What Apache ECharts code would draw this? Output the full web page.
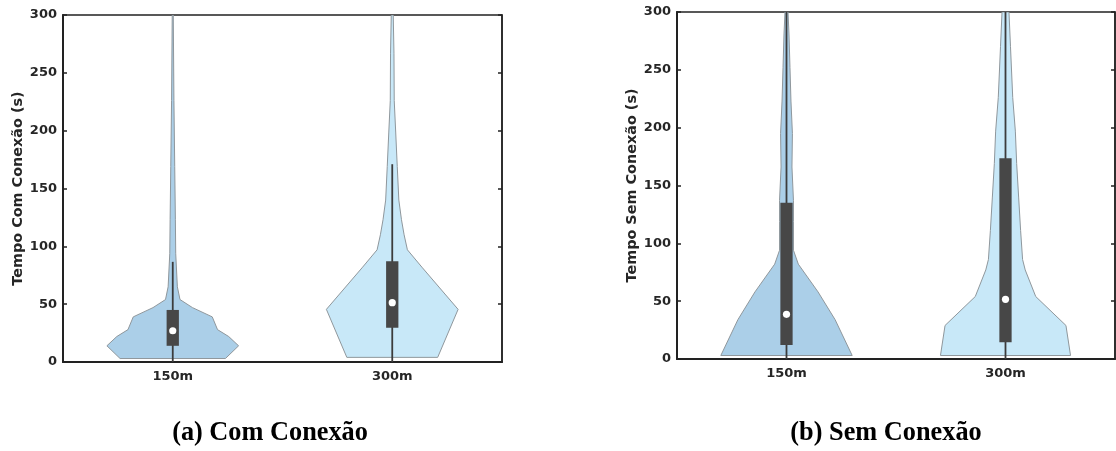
<!DOCTYPE html>
<html>
<head>
<meta charset="utf-8">
<script src="https://cdn.jsdelivr.net/npm/echarts@6/dist/echarts.min.js"></script>
<style>
  html, body { margin: 0; padding: 0; background: #ffffff; }
  #chart { width: 1116px; height: 451px; }
</style>
</head>
<body>
<div id="chart"></div>
<script>
// Distance categories shared by both panels
const categories = ['150m', '300m'];

// Y axis range (seconds)
const yMin = 0;
const yMax = 300;
const yStep = 50;

// Panel titles
const comAxisName = 'Tempo Com Conexão (s)';
const semAxisName = 'Tempo Sem Conexão (s)';
const comCaption = '(a) Com Conexão';
const semCaption = '(b) Sem Conexão';

// Violin profiles: time values (s) and relative density width (1 = widest)
const comViolin150Y = [3, 14, 22, 28, 39, 47, 54, 65, 94, 123, 169, 226, 300];
const comViolin150W = [0.80, 1.0, 0.85, 0.68, 0.60, 0.30, 0.11, 0.07, 0.045, 0.04, 0.03, 0.018, 0.008];
const comViolin300Y = [4, 45.5, 82, 97, 110, 123, 140, 169, 198, 226, 267, 300];
const comViolin300W = [0.69, 1.0, 0.45, 0.23, 0.18, 0.14, 0.10, 0.076, 0.053, 0.03, 0.026, 0.015];

const semViolin150Y = [3, 34, 58, 82, 94, 119, 137, 166, 195, 223, 252, 281, 300];
const semViolin150W = [1.0, 0.74, 0.48, 0.18, 0.106, 0.106, 0.106, 0.083, 0.09, 0.068, 0.053, 0.038, 0.023];
const semViolin300Y = [3, 29, 54, 77, 86, 111, 140, 169, 197, 226, 270, 300];
const semViolin300W = [0.99, 0.92, 0.46, 0.30, 0.26, 0.23, 0.20, 0.17, 0.15, 0.11, 0.076, 0.053];

// Inner box plot statistics per category: whisker low, Q1, median, Q3, whisker high
const comWhiskerLow = [0, 0];
const comQ1 = [14, 29.6];
const comMedian = [27, 51.3];
const comQ3 = [45, 87];
const comWhiskerHigh = [86.6, 171];

const semWhiskerLow = [0, 0];
const semQ1 = [12, 14.4];
const semMedian = [38.6, 51.6];
const semQ3 = [135, 173.5];
const semWhiskerHigh = [300, 300];

// Styling
const violinFills = ['#abcfe8', '#c8e8f8'];
const violinStroke = '#8f979c';
const boxColor = '#474747';
const whiskerColor = '#3c3c3c';
const axisColor = '#222222';
const textColor = '#262626';
const axisFont = 'DejaVu Sans';

const comProfiles = [
  { y: comViolin150Y, w: comViolin150W },
  { y: comViolin300Y, w: comViolin300W }
];
const semProfiles = [
  { y: semViolin150Y, w: semViolin150W },
  { y: semViolin300Y, w: semViolin300W }
];

function violinRenderer(profiles) {
  return function (params, api) {
    const idx = params.dataIndex;
    const cat = api.value(0);
    const prof = profiles[idx];
    const band = api.size([1, 0])[0];
    const maxHalf = band * 0.30;
    const left = [];
    const right = [];
    for (let k = 0; k < prof.y.length; k++) {
      const p = api.coord([cat, prof.y[k]]);
      const hw = prof.w[k] * maxHalf;
      left.push([p[0] - hw, p[1]]);
      right.push([p[0] + hw, p[1]]);
    }
    const points = left.concat(right.reverse());
    return {
      type: 'polygon',
      shape: { points: points },
      style: { fill: violinFills[idx], stroke: violinStroke, lineWidth: 1 }
    };
  };
}

function boxRenderer(params, api) {
  const cat = api.value(0);
  const band = api.size([1, 0])[0];
  const bw = band * 0.056;
  const lo = api.coord([cat, api.value(1)]);
  const q1 = api.coord([cat, api.value(2)]);
  const med = api.coord([cat, api.value(3)]);
  const q3 = api.coord([cat, api.value(4)]);
  const hi = api.coord([cat, api.value(5)]);
  return {
    type: 'group',
    children: [
      { type: 'line', shape: { x1: lo[0], y1: lo[1], x2: hi[0], y2: hi[1] },
        style: { stroke: whiskerColor, lineWidth: 1.8 } },
      { type: 'rect', shape: { x: q3[0] - bw / 2, y: q3[1], width: bw, height: q1[1] - q3[1] },
        style: { fill: boxColor } },
      { type: 'circle', shape: { cx: med[0], cy: med[1], r: 3.6 },
        style: { fill: '#ffffff' } }
    ]
  };
}

function boxData(lo, q1, med, q3, hi) {
  return categories.map((c, i) => [i, lo[i], q1[i], med[i], q3[i], hi[i]]);
}
function violinData(profiles) {
  return profiles.map((p, i) => [i, p.y[0], p.y[p.y.length - 1]]);
}

function xAxisFor(gridIndex) {
  return {
    type: 'category',
    gridIndex: gridIndex,
    data: categories,
    axisLine: { lineStyle: { color: axisColor, width: 2 } },
    axisTick: { show: false },
    axisLabel: { color: textColor, fontFamily: axisFont, fontWeight: 'bold', fontSize: 13, margin: 8 }
  };
}
function leftYAxis(gridIndex, name) {
  return {
    type: 'value',
    gridIndex: gridIndex,
    position: 'left',
    min: yMin, max: yMax, interval: yStep,
    name: name,
    nameLocation: 'middle',
    nameGap: 38,
    nameTextStyle: { color: textColor, fontFamily: axisFont, fontWeight: 'bold', fontSize: 14.4 },
    axisLine: { show: true, lineStyle: { color: axisColor, width: 2 } },
    axisTick: { show: true, inside: true, length: 4, lineStyle: { color: axisColor, width: 1.5 } },
    axisLabel: { color: textColor, fontFamily: axisFont, fontWeight: 'bold', fontSize: 13, margin: 6 },
    splitLine: { show: false }
  };
}
function rightYAxis(gridIndex) {
  return {
    type: 'value',
    gridIndex: gridIndex,
    position: 'right',
    min: yMin, max: yMax, interval: yStep,
    axisLine: { show: true, lineStyle: { color: axisColor, width: 1.5 } },
    axisTick: { show: true, inside: true, length: 4, lineStyle: { color: axisColor, width: 1.5 } },
    axisLabel: { show: false },
    splitLine: { show: false }
  };
}

const chart = echarts.init(document.getElementById('chart'), null, { renderer: 'canvas' });

chart.setOption({
  animation: false,
  backgroundColor: '#ffffff',
  grid: [
    { left: 63, top: 15, width: 439, height: 347, show: true, borderColor: axisColor, borderWidth: 1.5 },
    { left: 677, top: 12, width: 438, height: 347, show: true, borderColor: axisColor, borderWidth: 1.5 }
  ],
  xAxis: [xAxisFor(0), xAxisFor(1)],
  yAxis: [leftYAxis(0, comAxisName), rightYAxis(0), leftYAxis(1, semAxisName), rightYAxis(1)],
  series: [
    { type: 'custom', xAxisIndex: 0, yAxisIndex: 0, renderItem: violinRenderer(comProfiles),
      encode: { x: 0, y: [1, 2] }, data: violinData(comProfiles), clip: true },
    { type: 'custom', xAxisIndex: 0, yAxisIndex: 0, renderItem: boxRenderer,
      encode: { x: 0, y: [1, 2, 3, 4, 5] },
      data: boxData(comWhiskerLow, comQ1, comMedian, comQ3, comWhiskerHigh), clip: true },
    { type: 'custom', xAxisIndex: 1, yAxisIndex: 2, renderItem: violinRenderer(semProfiles),
      encode: { x: 0, y: [1, 2] }, data: violinData(semProfiles), clip: true },
    { type: 'custom', xAxisIndex: 1, yAxisIndex: 2, renderItem: boxRenderer,
      encode: { x: 0, y: [1, 2, 3, 4, 5] },
      data: boxData(semWhiskerLow, semQ1, semMedian, semQ3, semWhiskerHigh), clip: true }
  ],
  graphic: [
    { type: 'text', x: 270, y: 433,
      style: { text: comCaption, fill: '#000000', font: 'bold 26.3px "Liberation Serif"',
               textAlign: 'center', textVerticalAlign: 'middle' } },
    { type: 'text', x: 886, y: 433,
      style: { text: semCaption, fill: '#000000', font: 'bold 26.3px "Liberation Serif"',
               textAlign: 'center', textVerticalAlign: 'middle' } }
  ]
});
</script>
</body>
</html>
